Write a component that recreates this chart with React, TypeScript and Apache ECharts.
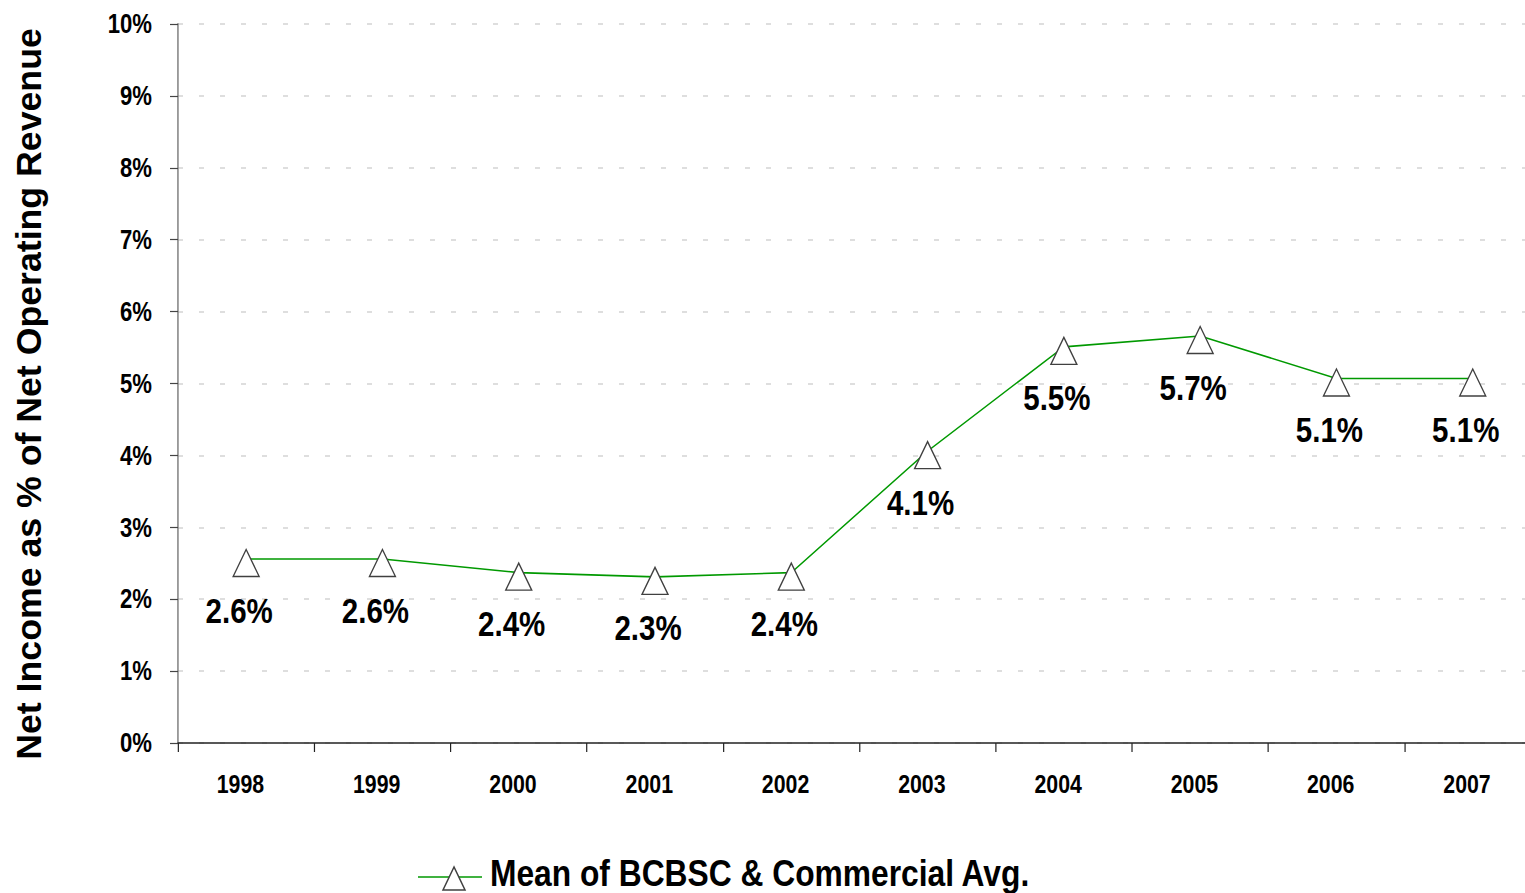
import React, { useEffect, useRef } from 'react';
import * as echarts from 'echarts';

const years = ['1998', '1999', '2000', '2001', '2002', '2003', '2004', '2005', '2006', '2007'];
const netIncomePct = [2.56, 2.56, 2.37, 2.31, 2.37, 4.06, 5.51, 5.66, 5.07, 5.07];
const seriesName = 'Mean of BCBSC & Commercial Avg.';
const yAxisTitle = 'Net Income as % of Net Operating Revenue';

// The reference uses a condensed bold face for the tick and value labels.
// No condensed font is installed, so the chart is drawn wider and squeezed
// horizontally with CSS; the title and key are compensated separately.
const S = 0.82;
const KEY_SQUEEZE = 0.87;
const VIS_W = 1545;
const W = VIS_W / S;
const FONT = "'Liberation Sans', Arial, sans-serif";
const LINE_GREEN = '#009900';
const MARKER_EDGE = '#404040';

export default function App() {
  const ref = useRef<HTMLDivElement>(null);
  useEffect(() => {
    const chart = echarts.init(ref.current!, null, { renderer: 'svg' });
    chart.setOption({
      animation: false,
      backgroundColor: '#ffffff',
      grid: { left: 178 / S, right: (VIS_W - 1541) / S, top: 24, bottom: 150, containLabel: false },
      xAxis: {
        type: 'category',
        data: years,
        boundaryGap: true,
        axisLine: { show: true, lineStyle: { color: '#222222', width: 1.5 } },
        axisTick: { show: true, length: 9, lineStyle: { color: '#222222', width: 1.2 / S } },
        axisLabel: {
          margin: 28,
          fontSize: 26,
          fontWeight: 'bold',
          fontFamily: FONT,
          color: '#000000',
          padding: [0, 14, 0, 0],
        },
        splitLine: { show: false },
      },
      yAxis: {
        type: 'value',
        min: 0,
        max: 10,
        interval: 1,
        axisLine: { show: true, lineStyle: { color: '#808080', width: 1.5 / S } },
        axisTick: { show: true, length: 8 / S, lineStyle: { color: '#444444', width: 1.2 } },
        axisLabel: {
          formatter: '{value}%',
          margin: 26 / S,
          fontSize: 27,
          fontWeight: 'bold',
          fontFamily: FONT,
          color: '#000000',
        },
        splitLine: { show: true, lineStyle: { color: '#d4d4d4', width: 1.5, type: [5 / S, 16 / S] } },
      },
      graphic: [
        {
          type: 'text',
          x: 29 / S,
          y: 394,
          rotation: Math.PI / 2,
          scaleY: 1 / S,
          style: {
            text: yAxisTitle,
            fontSize: 35.7,
            fontWeight: 'bold',
            fontFamily: FONT,
            fill: '#000000',
            align: 'center',
            verticalAlign: 'middle',
          },
        },
        {
          type: 'group',
          x: 418 / S,
          y: 0,
          scaleX: 1 / S,
          children: [
            {
              type: 'line',
              shape: { x1: 0, y1: 877, x2: 64, y2: 877 },
              style: { stroke: LINE_GREEN, lineWidth: 1.5 },
            },
            {
              type: 'polygon',
              shape: { points: [[36, 867], [25, 890], [47, 890]] },
              style: { fill: '#ffffff', stroke: MARKER_EDGE, lineWidth: 1.5 },
            },
            {
              type: 'text',
              x: 72,
              y: 873,
              scaleX: KEY_SQUEEZE,
              style: {
                text: seriesName,
                fontSize: 36.5,
                fontWeight: 'bold',
                fontFamily: FONT,
                fill: '#000000',
                align: 'left',
                verticalAlign: 'middle',
              },
            },
          ],
        },
      ],
      series: [
        {
          name: seriesName,
          type: 'line',
          data: netIncomePct,
          symbol: 'triangle',
          symbolSize: [26 / S, 27],
          symbolOffset: [0, 4],
          itemStyle: { color: '#ffffff', borderColor: MARKER_EDGE, borderWidth: 1.5 },
          lineStyle: { color: LINE_GREEN, width: 1.6 },
          label: {
            show: true,
            position: 'inside',
            offset: [-7 / S, 47],
            formatter: (p: any) => Number(p.value).toFixed(1) + '%',
            fontSize: 36,
            fontWeight: 'bold',
            fontFamily: FONT,
            color: '#000000',
          },
        },
      ],
    });
    return () => chart.dispose();
  }, []);
  return (
    <div
      ref={ref}
      style={{
        position: 'fixed',
        left: 0,
        top: 0,
        width: W,
        height: 893,
        background: '#ffffff',
        transform: `scaleX(${S})`,
        transformOrigin: '0 0',
      }}
    />
  );
}
